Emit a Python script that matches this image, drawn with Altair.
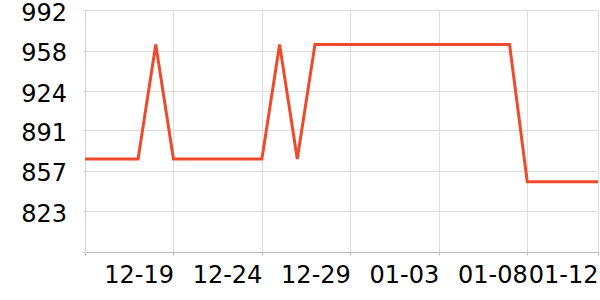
import altair as alt
import pandas as pd

dates = pd.date_range("2023-12-14", "2024-01-12", freq="D").strftime("%Y-%m-%d").tolist()
values = [867, 867, 867, 867, 963, 867, 867, 867, 867, 867,
          867, 963, 867, 963, 963, 963, 963, 963, 963, 963,
          963, 963, 963, 963, 963, 848, 848, 848, 848, 848]
x_ticks = ["2023-12-14", "2023-12-19", "2023-12-24", "2023-12-29", "2024-01-03", "2024-01-08", "2024-01-12"]
y_ticks = [789, 823, 857, 891, 924, 958, 992]
y_domain = [789, 992]

df = pd.DataFrame({"date": dates, "value": values})


def dt(s):
    y, m, d = (int(p) for p in s.split("-"))
    return alt.DateTime(year=y, month=m, date=d, utc=True)


FONT = "DejaVu Sans"

chart = alt.Chart(df).mark_line(color="#ef4a2b", strokeWidth=3).encode(
    x=alt.X(
        "date:T",
        scale=alt.Scale(type="utc", domain=[dt(x_ticks[0]), dt(x_ticks[-1])]),
        axis=alt.Axis(
            values=[dt(s) for s in x_ticks],
            labelExpr="datum.index == 0 ? '' : utcFormat(datum.value, '%m-%d')",
            labelAlign="right",
            labelBaseline="top",
            labelFont=FONT,
            labelFontSize=24,
            labelColor="#000000",
            labelPadding=8.5,
            labelOverlap=False,
            labelFlush=False,
            tickSize=3,
            tickColor="#bbbbbb",
            domainColor="#bbbbbb",
            gridColor="#dddddd",
            grid=True,
            title=None,
        ),
    ),
    y=alt.Y(
        "value:Q",
        scale=alt.Scale(domain=y_domain, nice=False, zero=False),
        axis=alt.Axis(
            values=y_ticks,
            labelExpr="datum.value == 789 ? '' : format(datum.value, 'd')",
            labelAlign="right",
            labelBaseline="middle",
            labelOffset=3,
            labelFont=FONT,
            labelFontSize=24,
            labelColor="#000000",
            labelPadding=16.5,
            labelOverlap=False,
            labelFlush=False,
            tickSize=2,
            tickColor="#cccccc",
            domainColor="#d5d5d5",
            gridColor="#dddddd",
            grid=True,
            title=None,
        ),
    ),
).properties(
    width=513,
    height=242,
    autosize=alt.AutoSizeParams(type="none"),
    padding={"left": 85, "top": 10, "right": 2, "bottom": 48},
).configure_view(stroke=None)

chart.save("out.html", embed_options={"renderer": "svg", "actions": False})
